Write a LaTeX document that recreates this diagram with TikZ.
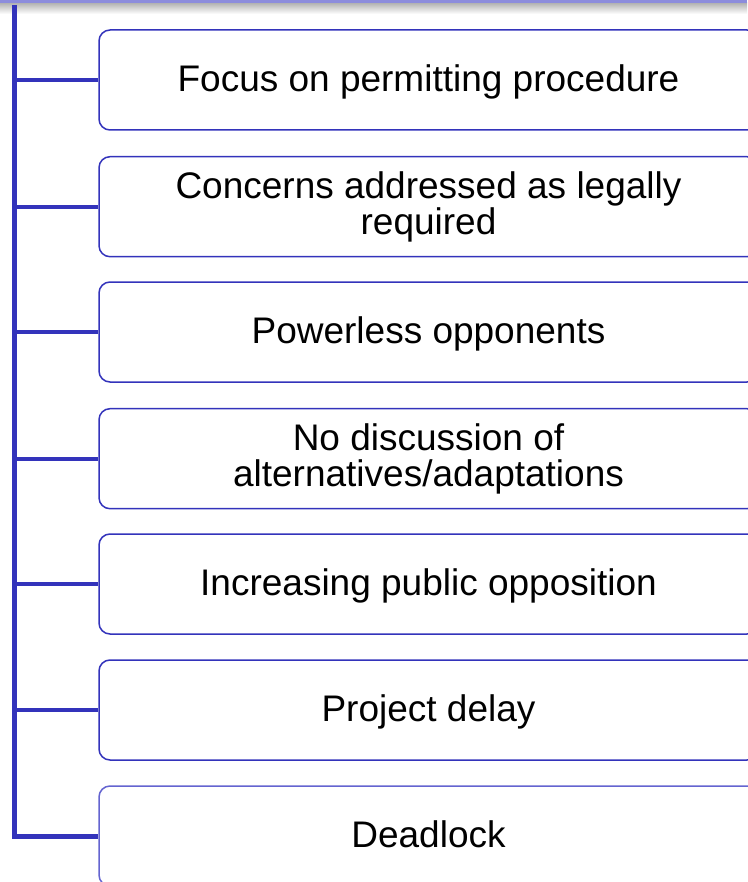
\documentclass[tikz,border=0pt]{standalone}
\usepackage{fontspec}
\setmainfont{Liberation Sans}
\definecolor{lineblue}{RGB}{51,51,187}
\definecolor{lightblue}{RGB}{100,100,208}
\definecolor{barpurple}{RGB}{140,140,220}
\definecolor{bargray}{RGB}{178,178,178}
\tikzset{
  itembox/.style={draw=lineblue, line width=1.5pt, rounded corners=11pt,
    minimum width=659pt, minimum height=100pt, inner sep=0pt, align=center,
    font=\fontsize{37}{35.5}\selectfont, text=black},
  oneline/.style={text height=28pt, text depth=4.6pt},
  twoline/.style={yshift=-0.7pt},
  trunk/.style={draw=lineblue, line width=5pt},
  branch/.style={draw=lineblue, line width=4pt}
}
\begin{document}
\begin{tikzpicture}[x=1pt,y=-1pt]
\useasboundingbox (0,0) rectangle (747,882);
\shade[top color=bargray, bottom color=white] (0,3) rectangle (747,14);
\fill[barpurple] (0,0) rectangle (747,3);
\node[itembox, oneline] (b1) at (428.5,80) {Focus on permitting procedure};
\node[itembox, twoline] (b2) at (428.5,206) {Concerns addressed as legally\\required};
\node[itembox, oneline] (b3) at (428.5,332) {Powerless opponents};
\node[itembox, twoline] (b4) at (428.5,458) {No discussion of\\alternatives/adaptations};
\node[itembox, oneline] (b5) at (428.5,584) {Increasing public opposition};
\node[itembox, oneline] (b6) at (428.5,710) {Project delay};
\node[itembox, oneline, draw=lightblue] (b7) at (428.5,836) {Deadlock};
\coordinate (top) at (14.5,5);
\draw[trunk] (top) |- (b7.west);
\foreach \n in {1,...,6} {
  \draw[branch] (top |- b\n.west) -- (b\n.west);
}
\end{tikzpicture}
\end{document}
